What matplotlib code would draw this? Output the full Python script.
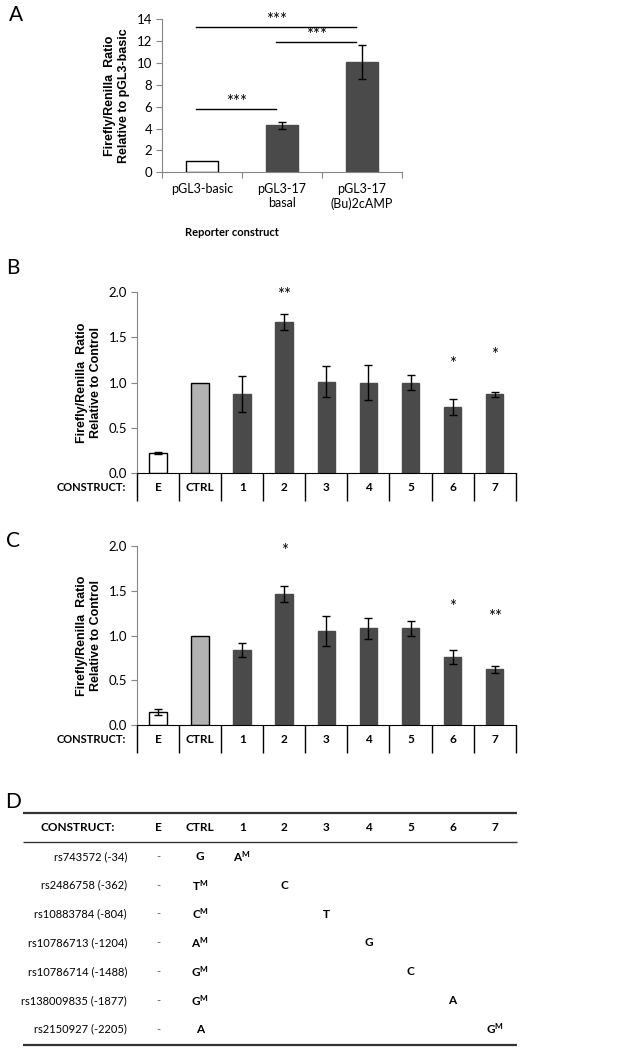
import matplotlib
matplotlib.use('Agg')
import matplotlib.pyplot as plt
import numpy as np

plt.rcParams['font.family'] = ['Lato', 'DejaVu Sans']
plt.rcParams['mathtext.fontset'] = 'custom'
plt.rcParams['mathtext.rm'] = 'Lato:bold'
plt.rcParams['mathtext.it'] = 'Lato:bold'
plt.rcParams['mathtext.bf'] = 'Lato:bold'

# panel A data
a_labels = ['pGL3-basic', 'pGL3-17\nbasal', 'pGL3-17\n(Bu)2cAMP']
a_values = [1.0, 4.3, 10.1]
a_errors = [0.0, 0.3, 1.55]
a_sig_pairs = [(0, 1), (1, 2), (0, 2)]
a_sig_heights = [5.8, 11.9, 13.3]
a_sig_text = ['***', '***', '***']

# panels B and C data
constructs = ['E', 'CTRL', '1', '2', '3', '4', '5', '6', '7']
b_values = [0.22, 1.0, 0.87, 1.67, 1.01, 1.0, 1.0, 0.73, 0.87]
b_errors = [0.01, 0.0, 0.2, 0.09, 0.17, 0.19, 0.08, 0.085, 0.03]
b_star_idx = [3, 7, 8]
b_star_text = ['**', '*', '*']
b_star_y = [1.97, 1.21, 1.30]

c_values = [0.15, 1.0, 0.84, 1.46, 1.05, 1.08, 1.08, 0.76, 0.625]
c_errors = [0.03, 0.0, 0.08, 0.09, 0.17, 0.12, 0.085, 0.075, 0.04]
c_star_idx = [3, 7, 8]
c_star_text = ['*', '*', '**']
c_star_y = [1.94, 1.32, 1.21]

# panel D data
snps = ['rs743572 (-34)', 'rs2486758 (-362)', 'rs10883784 (-804)', 'rs10786713 (-1204)',
        'rs10786714 (-1488)', 'rs138009835 (-1877)', 'rs2150927 (-2205)']
ctrl_alleles = ['G', 'T$^{M}$', 'C$^{M}$', 'A$^{M}$', 'G$^{M}$', 'G$^{M}$', 'A']
variant_alleles = ['A$^{M}$', 'C', 'T', 'G', 'C', 'A', 'G$^{M}$']

W, H = 627, 1049
fig = plt.figure(figsize=(W / 100, H / 100), dpi=100)

def px_axes(left, top, right, bottom):
    return fig.add_axes([left / W, 1 - bottom / H, (right - left) / W, (bottom - top) / H])

axis_gray = '#868686'
dark = '#4a4a4a'

# ---- A ----
axA = px_axes(162, 19, 402, 172.3)
xa = np.arange(len(a_values))
axA.bar(xa, a_values, width=0.4, color=['white', dark, dark],
        edgecolor=['black', dark, dark], linewidth=1)
axA.errorbar(xa[1:], a_values[1:], yerr=a_errors[1:], fmt='none', ecolor='black',
             elinewidth=1, capsize=3, capthick=1)
for (i, j), h, t in zip(a_sig_pairs, a_sig_heights, a_sig_text):
    axA.plot([i - 0.07, j - 0.07], [h, h], color='black', lw=1)
    axA.text((i + j) / 2 - 0.07, h - 0.1, t, ha='center', va='bottom', fontsize=12)
axA.set_xlim(-0.5, 2.5)
axA.set_ylim(0, 14)
axA.set_yticks(range(0, 15, 2))
axA.set_xticks([-0.5, 0.5, 1.5, 2.5], minor=False)
axA.set_xticklabels([])
axA.set_xticks(xa, minor=True)
axA.set_xticklabels(a_labels, minor=True, fontsize=9)
axA.tick_params(axis='x', which='minor', length=0, pad=8)
axA.tick_params(axis='x', which='major', length=4, color=axis_gray)
axA.tick_params(axis='y', length=4, color=axis_gray, labelsize=9.5, pad=3)
for s in ['top', 'right']:
    axA.spines[s].set_visible(False)
for s in ['left', 'bottom']:
    axA.spines[s].set_color(axis_gray)
axA.set_ylabel('Firefly/Renilla  Ratio\nRelative to pGL3-basic', family='Liberation Sans',
               fontweight='bold', fontsize=9, labelpad=5)
axA.set_xlabel('Reporter construct', fontweight='bold', fontsize=8)
axA.xaxis.set_label_coords(0.29, -0.36)

# ---- B and C ----
def bar_panel(ax, values, errors, star_idx, star_text, star_y):
    x = np.arange(len(constructs))
    colors = ['white', '#b2b2b2'] + [dark] * 7
    edges = ['black', 'black'] + [dark] * 7
    ax.bar(x, values, width=0.42, color=colors, edgecolor=edges, linewidth=1)
    err = np.array(errors)
    m = err > 0
    ax.errorbar(x[m], np.array(values)[m], yerr=err[m], fmt='none', ecolor='black',
                elinewidth=1, capsize=3, capthick=1)
    for i, t, y in zip(star_idx, star_text, star_y):
        ax.text(i, y, t, ha='center', va='center', fontsize=12)
    ax.set_xlim(-0.5, 8.5)
    ax.set_ylim(0, 2)
    ax.set_yticks([0, 0.5, 1.0, 1.5, 2.0])
    ax.set_yticklabels(['%.1f' % v for v in [0, 0.5, 1.0, 1.5, 2.0]])
    ax.tick_params(axis='y', length=4, color=axis_gray, labelsize=9.5, pad=3)
    ax.set_xticks([])
    for s in ['top', 'right']:
        ax.spines[s].set_visible(False)
    ax.spines['left'].set_color(axis_gray)
    ax.spines['bottom'].set_color('black')
    tr = ax.get_xaxis_transform()
    ax.vlines(np.arange(-0.5, 9), -0.155, 0, transform=tr, color='black', lw=1, clip_on=False)
    for i, c in enumerate(constructs):
        ax.text(i, -0.08, c, transform=tr, ha='center', va='center',
                fontweight='bold', fontsize=8.5)
    ax.text(-0.76, -0.08, 'CONSTRUCT:', transform=tr, ha='right', va='center',
            fontweight='bold', fontsize=8)
    ax.set_ylabel('Firefly/Renilla  Ratio\nRelative to Control', family='Liberation Sans',
                  fontweight='bold', fontsize=9, labelpad=5)

axB = px_axes(137, 292.3, 515.7, 472.7)
bar_panel(axB, b_values, b_errors, b_star_idx, b_star_text, b_star_y)
axC = px_axes(137, 546, 515.7, 725.3)
bar_panel(axC, c_values, c_errors, c_star_idx, c_star_text, c_star_y)

# ---- D ----
axD = px_axes(137, 813.3, 515.7, 1045)
axD.set_xlim(-0.5, 8.5)
axD.set_ylim(6.55, -1.5)
axD.axis('off')
axD.hlines([-1.5, 6.55], -3.21, 8.53, color='#333333', lw=1.6, clip_on=False)
axD.hlines([-0.5], -3.21, 8.53, color='#333333', lw=1.0, clip_on=False)
axD.text(-1.9, -1, 'CONSTRUCT:', ha='center', va='center', fontweight='bold', fontsize=8.5)
for i, c in enumerate(constructs):
    axD.text(i, -1, c, ha='center', va='center', fontweight='bold', fontsize=8.5)
for r, (snp, ca, va) in enumerate(zip(snps, ctrl_alleles, variant_alleles)):
    axD.text(-0.74, r, snp, ha='right', va='center', fontsize=8)
    axD.text(0, r, '-', ha='center', va='center', fontsize=8, color='#555555')
    axD.text(1, r, ca, ha='center', va='center', fontweight='bold', fontsize=8.5)
    axD.text(r + 2, r, va, ha='center', va='center', fontweight='bold', fontsize=8.5)

# panel letters
for letter, (lx, ly) in zip('ABCD', [(16, 15), (13, 268), (13, 541), (13, 802)]):
    fig.text(lx / W, 1 - ly / H, letter, ha='center', va='center', fontsize=15)

fig.savefig('out.png', dpi=100)
